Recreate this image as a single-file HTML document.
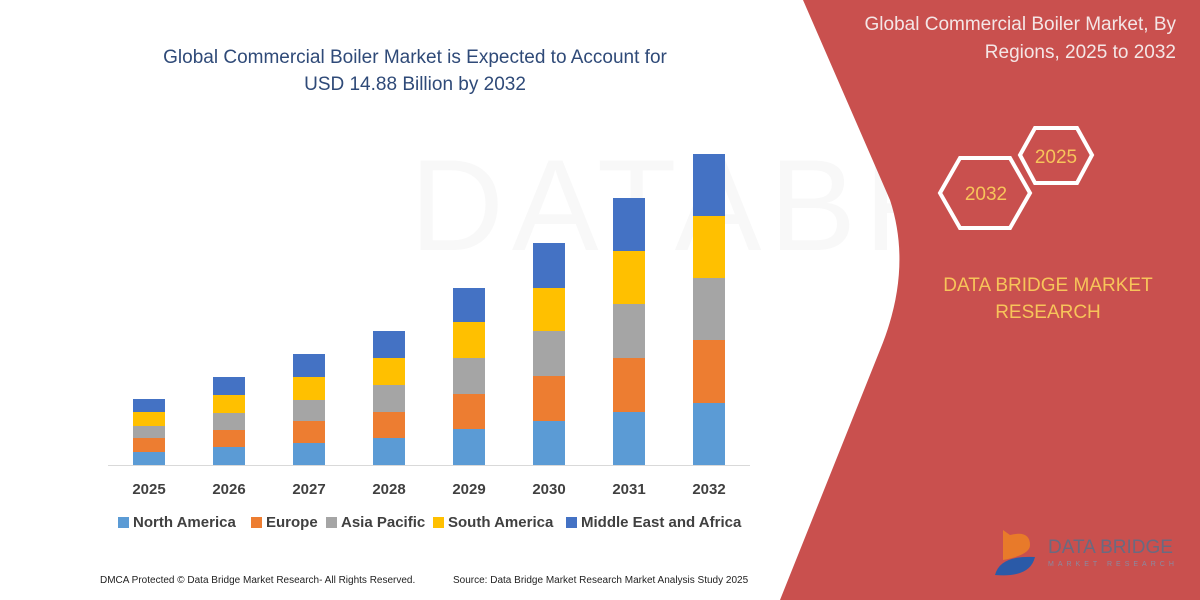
<!DOCTYPE html>
<html><head><meta charset="utf-8"><style>
html,body{margin:0;padding:0;background:#fff}
svg{display:block}
text{font-family:"Liberation Sans",sans-serif}
</style></head><body>
<svg width="1200" height="600" viewBox="0 0 1200 600">
<rect width="1200" height="600" fill="#fff"/>
<text x="410" y="250" font-size="130" fill="#f8f8f8" letter-spacing="8">DATABRIDGE</text>
<path d="M803 0 L1200 0 L1200 600 L780 600 L880 350 Q913 270 890 200 Z" fill="#c9504e"/>
<text x="1176" y="30" font-size="19" fill="#f4e6e6" text-anchor="end">Global Commercial Boiler Market, By</text>
<text x="1176" y="58" font-size="19" fill="#f4e6e6" text-anchor="end">Regions, 2025 to 2032</text>
<polygon points="1035,128 1077,128 1092,155 1077,183 1035,183 1020,155" fill="none" stroke="#fff" stroke-width="4"/>
<text x="1056" y="163" font-size="19" fill="#f7c45a" text-anchor="middle">2025</text>
<polygon points="960,158 1010,158 1030,193 1010,228 960,228 940,193" fill="none" stroke="#fff" stroke-width="4"/>
<text x="986" y="200" font-size="19" fill="#f7c45a" text-anchor="middle">2032</text>
<text x="1048" y="291" font-size="19" fill="#f7c45a" text-anchor="middle">DATA BRIDGE MARKET</text>
<text x="1048" y="318" font-size="19" fill="#f7c45a" text-anchor="middle">RESEARCH</text>
<path d="M1003 530 L1003 560 Q1030 555 1030 545 Q1030 530 1010 535" fill="#e87a2a"/>
<path d="M995 575 Q1000 555 1035 557 Q1030 578 995 575Z" fill="#2a5aa8"/>
<text x="1048" y="553" font-size="19" fill="#6a6a80" font-family="Liberation Serif">DATA BRIDGE</text>
<text x="1048" y="566" font-size="7" fill="#8a8aa0" letter-spacing="4">MARKET RESEARCH</text>
<text x="415" y="63" font-size="19" fill="#2f4a78" text-anchor="middle">Global Commercial Boiler Market is Expected to Account for</text>
<text x="415" y="90" font-size="19" fill="#2f4a78" text-anchor="middle">USD 14.88 Billion by 2032</text>
<line x1="108" y1="465.5" x2="750" y2="465.5" stroke="#d9d9d9"/>
<g id="bars"></g>
<g font-size="15" font-weight="bold" fill="#404040" text-anchor="middle">
<text x="149" y="494">2025</text><text x="229" y="494">2026</text><text x="309" y="494">2027</text><text x="389" y="494">2028</text><text x="469" y="494">2029</text><text x="549" y="494">2030</text><text x="629" y="494">2031</text><text x="709" y="494">2032</text>
</g>
<g font-size="15" font-weight="bold" fill="#404040">
<rect x="118" y="517" width="11" height="11" fill="#5b9bd5"/><text x="133" y="527">North America</text>
<rect x="251" y="517" width="11" height="11" fill="#ed7d31"/><text x="266" y="527">Europe</text>
<rect x="326" y="517" width="11" height="11" fill="#a5a5a5"/><text x="341" y="527">Asia Pacific</text>
<rect x="433" y="517" width="11" height="11" fill="#ffc000"/><text x="448" y="527">South America</text>
<rect x="566" y="517" width="11" height="11" fill="#4472c4"/><text x="581" y="527">Middle East and Africa</text>
</g>
<text x="100" y="583" font-size="10" fill="#222" font-family="Liberation Serif">DMCA Protected © Data Bridge Market Research-  All Rights Reserved.</text>
<text x="453" y="583" font-size="10" fill="#222" font-family="Liberation Serif">Source: Data Bridge Market Research  Market Analysis Study 2025</text>
</svg>
<script>
var d=[[149,399,412,426,438,452],[229,377,395,413,430,447],[309,354,377,400,421,443],[389,331,358,385,412,438],[469,288,322,358,394,429],[549,243,288,331,376,421],[629,198,251,304,358,412],[709,154,216,278,340,403]];
var c=["#4472c4","#ffc000","#a5a5a5","#ed7d31","#5b9bd5"];
var g=document.getElementById("bars"),s="";
d.forEach(function(b){var y=b.slice(1).concat([465]);for(var i=0;i<5;i++){s+='<rect x="'+(b[0]-16)+'" y="'+y[i]+'" width="32" height="'+(y[i+1]-y[i])+'" fill="'+c[i]+'"/>';}});
g.innerHTML=s;
</script>
</body></html>
